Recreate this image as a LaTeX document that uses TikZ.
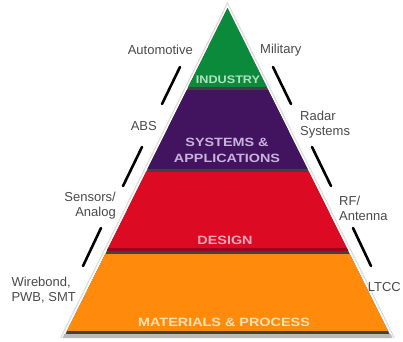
\documentclass[tikz,border=0pt]{standalone}
\usepackage{fontspec}
\setmainfont{Liberation Sans}
\definecolor{tgreen}{HTML}{0B8A3C}
\definecolor{tpurple}{HTML}{42135F}
\definecolor{tred}{HTML}{DC0A22}
\definecolor{torange}{HTML}{FF8A0C}
\definecolor{tband}{HTML}{444040}
\definecolor{labelgray}{HTML}{4A4A4A}
\definecolor{tgreentext}{HTML}{B5DFC0}
\definecolor{tpurpletext}{HTML}{C9B2DD}
\definecolor{tredtext}{HTML}{F6A9B9}
\definecolor{torangetext}{HTML}{FFE2B5}
\newcommand{\widetxt}[1]{\scalebox{1.2}[1]{#1}}
\tikzset{
  lbl/.style={text=labelgray, font=\fontsize{13}{15}\selectfont, inner sep=0pt},
  tier/.style={font=\bfseries\fontsize{12}{16}\selectfont, inner sep=0pt, align=center},
  slash/.style={black, line width=2.6pt, line cap=round},
}
\begin{document}
\begin{tikzpicture}[x=1pt,y=-1pt]
\useasboundingbox (0,0) rectangle (403,341);
\fill[white] (0,0) rectangle (403,341);
\coordinate (A) at (227.5,8);
\coordinate (BL) at (65.5,334);
\coordinate (BR) at (389.5,334);
% halo and shadow
\draw[gray!30, line width=1pt] (227.5,3) -- (61,337) -- (394,337) -- cycle;
\fill[gray!55] (64,334) -- (391,334) -- (392,338) -- (63,338) -- cycle;
\begin{scope}
\clip (A) -- (BL) -- (BR) -- cycle;
\fill[tband] (0,0) rectangle (403,334);
\fill[tgreen] (0,0) rectangle (403,87);
\fill[tpurple] (0,90) rectangle (403,169);
\fill[tred] (0,172) rectangle (403,250);
\fill[tred!70!black] (0,248) rectangle (403,250.5);
\fill[torange] (0,254) rectangle (403,331);
\end{scope}
% tier texts
\node[tier, text=tgreentext, font=\bfseries\fontsize{11}{13}\selectfont] (industry) at (228,80) {\scalebox{1.15}[1]{INDUSTRY}};
\node[tier, text=tpurpletext] (systems) at (227,150) {\widetxt{SYSTEMS \&}\\\widetxt{APPLICATIONS}};
\node[tier, text=tredtext] (design) at (225,240) {\widetxt{DESIGN}};
\node[tier, text=torangetext] (materials) at (224,322) {\widetxt{MATERIALS \& PROCESS}};
% side labels
\node[lbl, anchor=east] (automotive) at (193,50) {Automotive};
\node[lbl, anchor=west] (military) at (260,50) {Military};
\node[lbl, anchor=east] (abs) at (157,126) {ABS};
\node[lbl, anchor=west, align=left] (radar) at (300,125) {Radar\\Systems};
\node[lbl, anchor=east, align=right] (sensors) at (116,206) {Sensors/\\Analog};
\node[lbl, anchor=east, align=left] (wirebond) at (76,290) {Wirebond,\\PWB, SMT};
\node[lbl, anchor=west, align=left] (rf) at (339,208) {RF/\\Antenna};
\node[lbl, anchor=east] (ltcc) at (401,287) {LTCC};
% slashes
\coordinate (l1a) at (180,67); \coordinate (l1b) at (162,104);
\coordinate (l2a) at (142,147); \coordinate (l2b) at (123,186);
\coordinate (l3a) at (101,228); \coordinate (l3b) at (83,266);
\coordinate (r1a) at (273,67); \coordinate (r1b) at (291,104);
\coordinate (r2a) at (312,147); \coordinate (r2b) at (331,186);
\coordinate (r3a) at (353,228); \coordinate (r3b) at (371,266);
\draw[slash] (l1a) -- (l1b);
\draw[slash] (l2a) -- (l2b);
\draw[slash] (l3a) -- (l3b);
\draw[slash] (r1a) -- (r1b);
\draw[slash] (r2a) -- (r2b);
\draw[slash] (r3a) -- (r3b);
\end{tikzpicture}
\end{document}
